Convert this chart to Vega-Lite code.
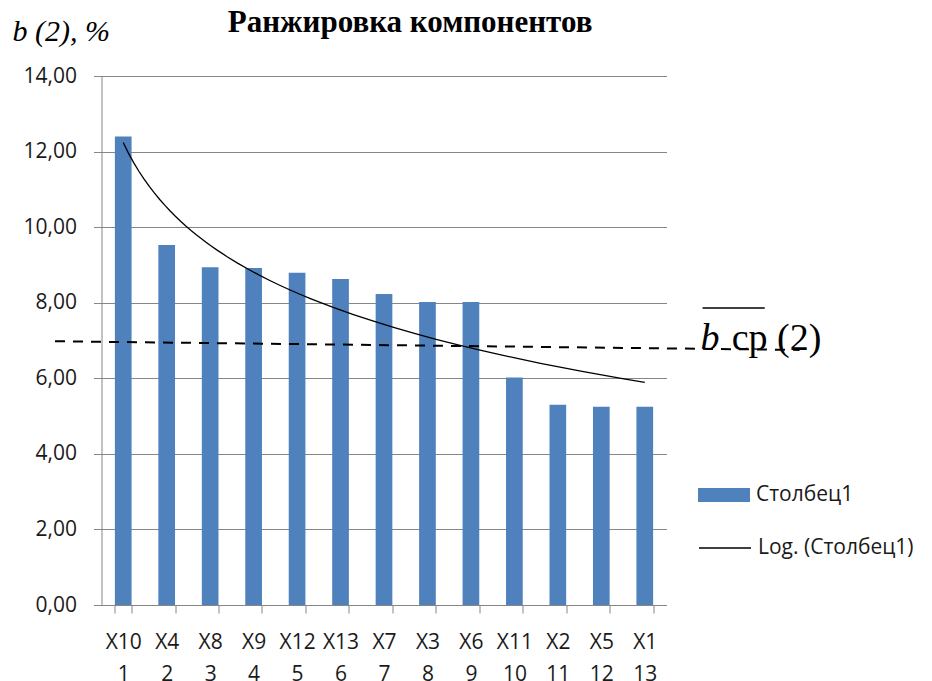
{
  "$schema": "https://vega.github.io/schema/vega-lite/v6.json",
  "autosize": "none",
  "width": 565,
  "height": 529,
  "padding": {"left": 101.5, "top": 76, "right": 265.5, "bottom": 76},
  "background": "white",
  "config": {
    "view": {"stroke": null},
    "axis": {
      "labelFont": "Open Sans",
      "labelFontSize": 21,
      "labelColor": "#1a1a1a",
      "domainColor": "#868686",
      "tickColor": "#868686",
      "gridColor": "#868686",
      "domainWidth": 1,
      "tickWidth": 1,
      "gridWidth": 1
    }
  },
  "datasets": {
    "bars": [
      {"cat": "X10 1", "n": 1, "v": 12.40},
      {"cat": "X4 2", "n": 2, "v": 9.53},
      {"cat": "X8 3", "n": 3, "v": 8.94},
      {"cat": "X9 4", "n": 4, "v": 8.92},
      {"cat": "X12 5", "n": 5, "v": 8.79},
      {"cat": "X13 6", "n": 6, "v": 8.63},
      {"cat": "X7 7", "n": 7, "v": 8.23},
      {"cat": "X3 8", "n": 8, "v": 8.02},
      {"cat": "X6 9", "n": 9, "v": 8.02},
      {"cat": "X11 10", "n": 10, "v": 6.02},
      {"cat": "X2 11", "n": 11, "v": 5.30},
      {"cat": "X5 12", "n": 12, "v": 5.25},
      {"cat": "X1 13", "n": 13, "v": 5.25}
    ],
    "avg": [
      {"x": -0.57, "y": 6.98},
      {"x": 16.56, "y": 6.75}
    ],
    "overline": [
      {"x": 14.33, "x2": 15.76, "y": 7.86}
    ],
    "lblb": [
      {"x": 14.28, "y": 6.75, "t": "b"}
    ],
    "lblcp": [
      {"x": 15.0, "y": 6.75, "t": "cp (2)"}
    ],
    "ttl": [
      {"x": 7.6, "y": 15.16, "t": "Ранжировка компонентов"}
    ]
  },
  "resolve": {"scale": {"x": "independent"}},
  "layer": [
    {
      "data": {"name": "bars"},
      "mark": {"type": "bar"},
      "encoding": {
        "x": {
          "field": "cat",
          "type": "nominal",
          "sort": null,
          "scale": {"paddingInner": 0.616, "paddingOuter": 0.308},
          "axis": {
            "title": null,
            "labelAngle": 0,
            "labelExpr": "isString(datum.value) ? split(datum.value, ' ') : ''",
            "labelLineHeight": 32,
            "labelPadding": 18,
            "tickSize": 8,
            "tickBand": "extent",
            "grid": false
          }
        },
        "y": {
          "field": "v",
          "type": "quantitative",
          "scale": {"domain": [0, 14], "nice": false, "zero": true},
          "axis": {
            "values": [0, 2, 4, 6, 8, 10, 12, 14],
            "labelExpr": "replace(format(datum.value, '.2f'), '.', ',')",
            "tickSize": 8,
            "labelPadding": 17,
            "grid": true,
            "title": "b (2), %",
            "titleFont": "Liberation Serif",
            "titleFontSize": 30,
            "titleFontStyle": "italic",
            "titleFontWeight": "normal",
            "titleColor": "black",
            "titleAngle": 0,
            "titleAlign": "left",
            "titleBaseline": "alphabetic",
            "titleX": -89.5,
            "titleY": -36
          }
        },
        "color": {
          "datum": "Столбец1",
          "scale": {"range": ["#4F81BD"]},
          "legend": {
            "title": null,
            "orient": "none",
            "legendX": 596.5,
            "legendY": 393,
            "padding": 0,
            "symbolType": "M-1,-0.27H1V0.27H-1Z",
            "symbolSize": 2704,
            "symbolStrokeWidth": 0,
            "symbolOpacity": 1,
            "labelFont": "Open Sans",
            "labelFontSize": 21,
            "labelColor": "#1a1a1a",
            "labelOffset": 6
          }
        }
      }
    },
    {
      "data": {"name": "bars"},
      "transform": [{"regression": "v", "on": "n", "method": "log"}],
      "mark": {"type": "line", "strokeWidth": 1.3},
      "encoding": {
        "x": {"field": "n", "type": "quantitative", "scale": {"domain": [0.5, 13.5], "nice": false, "zero": false}, "axis": null},
        "y": {"field": "v", "type": "quantitative", "scale": {"domain": [0, 14], "nice": false}},
        "stroke": {
          "datum": "Log. (Столбец1)",
          "scale": {"range": ["black"]},
          "legend": {
            "title": null,
            "orient": "none",
            "legendX": 596.5,
            "legendY": 445,
            "padding": 0,
            "symbolType": "stroke",
            "symbolSize": 2704,
            "symbolStrokeWidth": 1.3,
            "labelFont": "Open Sans",
            "labelFontSize": 21,
            "labelColor": "#1a1a1a",
            "labelOffset": 6
          }
        }
      }
    },
    {
      "data": {"name": "avg"},
      "mark": {"type": "line", "color": "black", "strokeWidth": 2, "strokeDash": [10, 8]},
      "encoding": {
        "x": {"field": "x", "type": "quantitative", "scale": {"domain": [0.5, 13.5], "nice": false, "zero": false}, "axis": null},
        "y": {"field": "y", "type": "quantitative", "scale": {"domain": [0, 14], "nice": false}}
      }
    },
    {
      "data": {"name": "overline"},
      "mark": {"type": "rule", "color": "black", "strokeWidth": 1.5},
      "encoding": {
        "x": {"field": "x", "type": "quantitative", "scale": {"domain": [0.5, 13.5], "nice": false, "zero": false}, "axis": null},
        "x2": {"field": "x2"},
        "y": {"field": "y", "type": "quantitative", "scale": {"domain": [0, 14], "nice": false}}
      }
    },
    {
      "data": {"name": "lblb"},
      "mark": {"type": "text", "font": "Liberation Serif", "fontSize": 38, "fontStyle": "italic", "align": "left", "baseline": "alphabetic", "color": "black"},
      "encoding": {
        "x": {"field": "x", "type": "quantitative", "scale": {"domain": [0.5, 13.5], "nice": false, "zero": false}, "axis": null},
        "y": {"field": "y", "type": "quantitative", "scale": {"domain": [0, 14], "nice": false}},
        "text": {"field": "t"}
      }
    },
    {
      "data": {"name": "lblcp"},
      "mark": {"type": "text", "font": "Liberation Serif", "fontSize": 38, "align": "left", "baseline": "alphabetic", "color": "black"},
      "encoding": {
        "x": {"field": "x", "type": "quantitative", "scale": {"domain": [0.5, 13.5], "nice": false, "zero": false}, "axis": null},
        "y": {"field": "y", "type": "quantitative", "scale": {"domain": [0, 14], "nice": false}},
        "text": {"field": "t"}
      }
    },
    {
      "data": {"name": "ttl"},
      "mark": {"type": "text", "font": "Liberation Serif", "fontSize": 31, "fontWeight": "bold", "align": "center", "baseline": "alphabetic", "color": "black"},
      "encoding": {
        "x": {"field": "x", "type": "quantitative", "scale": {"domain": [0.5, 13.5], "nice": false, "zero": false}, "axis": null},
        "y": {"field": "y", "type": "quantitative", "scale": {"domain": [0, 14], "nice": false}},
        "text": {"field": "t"}
      }
    }
  ]
}
